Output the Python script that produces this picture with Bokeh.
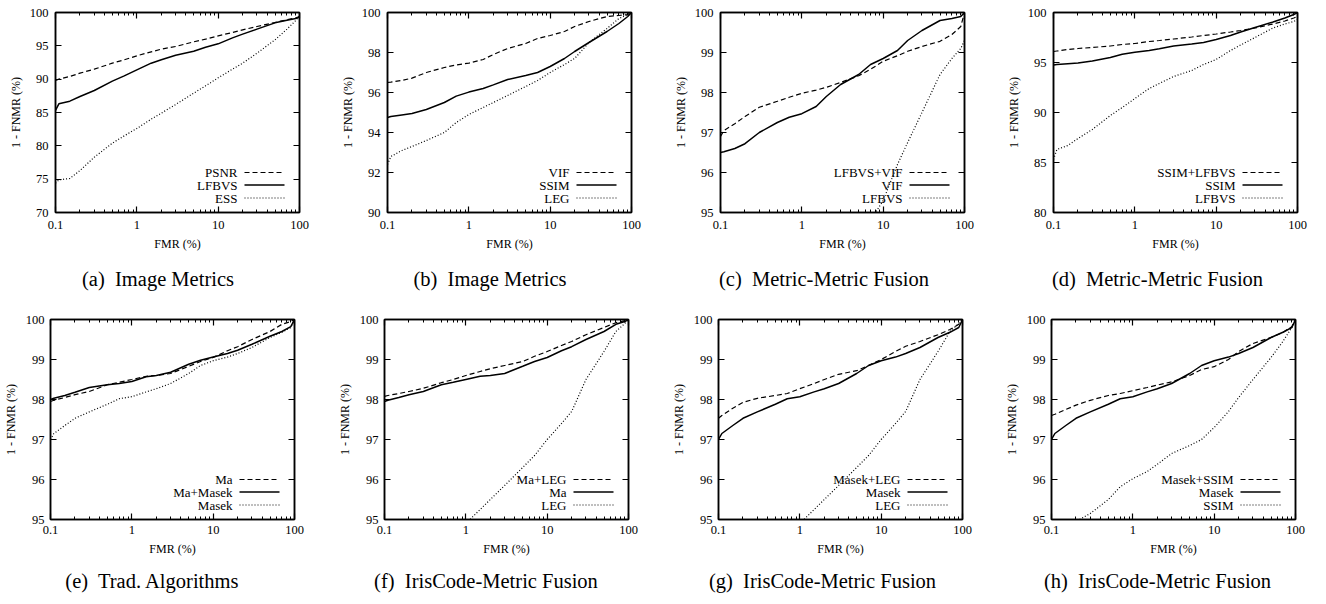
from bokeh.plotting import figure
from bokeh.models import (Range1d, FixedTicker, LinearAxis, LogAxis, Label, Title,
                          CustomJSTickFormatter)
from bokeh.layouts import row, column
from bokeh.embed import file_html
from bokeh.resources import INLINE

# ---------------- data ----------------
FMR = [0.1, 0.11, 0.15, 0.2, 0.3, 0.5, 0.7, 1, 1.5, 2, 3, 5, 7, 10, 15, 20, 30, 50, 70, 90, 100]

PSNR = [89.8, 90.0, 90.4, 90.9, 91.5, 92.4, 92.9, 93.5, 94.1, 94.5, 94.9, 95.6, 96.0, 96.5, 97.0, 97.4, 97.9, 98.5, 98.9, 99.2, 99.4]
LFBVS = [85.3, 86.3, 86.7, 87.4, 88.3, 89.7, 90.5, 91.4, 92.4, 92.9, 93.6, 94.2, 94.8, 95.3, 96.2, 96.75, 97.5, 98.45, 98.85, 99.1, 99.3]
ESS = [74.4, 74.9, 75.1, 76.3, 78.3, 80.4, 81.5, 82.6, 84.0, 84.9, 86.2, 87.9, 89.0, 90.2, 91.5, 92.4, 93.9, 95.9, 97.5, 98.8, 99.5]
VIF = [96.5, 96.52, 96.6, 96.72, 97.0, 97.25, 97.38, 97.47, 97.65, 97.9, 98.2, 98.45, 98.7, 98.85, 99.05, 99.3, 99.55, 99.8, 99.85, 99.9, 100]
SSIM = [94.75, 94.8, 94.88, 94.95, 95.15, 95.5, 95.82, 96.02, 96.2, 96.38, 96.65, 96.85, 97.0, 97.3, 97.7, 98.05, 98.5, 99.05, 99.45, 99.8, 100]
LEG = [92.4, 92.8, 93.1, 93.3, 93.6, 94.0, 94.5, 94.9, 95.25, 95.5, 95.85, 96.3, 96.6, 97.0, 97.4, 97.7, 98.5, 99.2, 99.7, 99.9, 100]
MA = [97.95, 97.98, 98.05, 98.12, 98.2, 98.37, 98.43, 98.5, 98.58, 98.6, 98.65, 98.83, 98.95, 99.05, 99.22, 99.32, 99.5, 99.7, 99.88, 99.95, 100]
MASEK = [97.0, 97.15, 97.35, 97.53, 97.69, 97.88, 98.02, 98.07, 98.19, 98.27, 98.4, 98.65, 98.85, 98.97, 99.06, 99.15, 99.3, 99.55, 99.68, 99.8, 100]
LFBVS_VIF = [96.9, 97.05, 97.22, 97.4, 97.63, 97.78, 97.88, 97.98, 98.06, 98.13, 98.25, 98.42, 98.58, 98.78, 98.92, 99.03, 99.15, 99.28, 99.45, 99.65, 100]
SSIM_LFBVS = [96.1, 96.15, 96.3, 96.4, 96.5, 96.65, 96.8, 96.9, 97.1, 97.2, 97.35, 97.55, 97.7, 97.85, 98.05, 98.2, 98.45, 98.85, 99.15, 99.45, 99.6]
MA_MASEK = [98.0, 98.03, 98.1, 98.18, 98.3, 98.37, 98.4, 98.45, 98.57, 98.6, 98.68, 98.88, 98.98, 99.06, 99.15, 99.23, 99.38, 99.58, 99.7, 99.82, 100]
MA_LEG = [98.08, 98.1, 98.15, 98.2, 98.28, 98.42, 98.5, 98.6, 98.7, 98.77, 98.85, 98.95, 99.08, 99.2, 99.35, 99.45, 99.62, 99.8, 99.92, 99.97, 100]
MASEK_LEG = [97.53, 97.6, 97.78, 97.93, 98.03, 98.1, 98.15, 98.27, 98.4, 98.5, 98.63, 98.72, 98.85, 99.0, 99.2, 99.33, 99.45, 99.62, 99.75, 99.88, 100]
MASEK_SSIM = [97.6, 97.63, 97.75, 97.86, 97.98, 98.1, 98.15, 98.22, 98.3, 98.36, 98.44, 98.6, 98.75, 98.82, 99.0, 99.2, 99.4, 99.55, 99.68, 99.82, 100]

X_TICKS = [0.1, 1, 10, 100]
X_MINOR = [0.2, 0.3, 0.4, 0.5, 0.6, 0.7, 0.8, 0.9,
           2, 3, 4, 5, 6, 7, 8, 9,
           20, 30, 40, 50, 60, 70, 80, 90]
YT_A = [70, 75, 80, 85, 90, 95, 100]
YT_B = [90, 92, 94, 96, 98, 100]
YT_C = [95, 96, 97, 98, 99, 100]
YT_D = [80, 85, 90, 95, 100]

X_LABEL = "FMR (%)"
Y_LABEL = "1 - FNMR (%)"

PANELS = [
    ("(a)", "Image Metrics", (70, 100), YT_A,
     [("PSNR", PSNR, "dashed"), ("LFBVS", LFBVS, "solid"), ("ESS", ESS, "dotted")]),
    ("(b)", "Image Metrics", (90, 100), YT_B,
     [("VIF", VIF, "dashed"), ("SSIM", SSIM, "solid"), ("LEG", LEG, "dotted")]),
    ("(c)", "Metric-Metric Fusion", (95, 100), YT_C,
     [("LFBVS+VIF", LFBVS_VIF, "dashed"), ("VIF", VIF, "solid"), ("LFBVS", LFBVS, "dotted")]),
    ("(d)", "Metric-Metric Fusion", (80, 100), YT_D,
     [("SSIM+LFBVS", SSIM_LFBVS, "dashed"), ("SSIM", SSIM, "solid"), ("LFBVS", LFBVS, "dotted")]),
    ("(e)", "Trad. Algorithms", (95, 100), YT_C,
     [("Ma", MA, "dashed"), ("Ma+Masek", MA_MASEK, "solid"), ("Masek", MASEK, "dotted")]),
    ("(f)", "IrisCode-Metric Fusion", (95, 100), YT_C,
     [("Ma+LEG", MA_LEG, "dashed"), ("Ma", MA, "solid"), ("LEG", LEG, "dotted")]),
    ("(g)", "IrisCode-Metric Fusion", (95, 100), YT_C,
     [("Masek+LEG", MASEK_LEG, "dashed"), ("Masek", MASEK, "solid"), ("LEG", LEG, "dotted")]),
    ("(h)", "IrisCode-Metric Fusion", (95, 100), YT_C,
     [("Masek+SSIM", MASEK_SSIM, "dashed"), ("Masek", MASEK, "solid"), ("SSIM", SSIM, "dotted")]),
]

# ---------------- layout / style ----------------
FONT = "Liberation Serif"
FW, FH = 244, 200
LEFT = [55, 46, 46, 46, 50, 45, 45, 45]
RIGHT = [38, 39, 39, 15, 40, 40, 39, 15]
TOP = [12, 12, 12, 12, 6, 6, 6, 6]
BOTTOM = [101, 101, 101, 101, 78, 78, 78, 78]
SUB_DX = [102.5, 102.5, 103.5, 104, 102.5, 101.5, 104, 106]
SUB_STAND = [27, 27, 27, 27, 21, 21, 21, 21]
SUB_SIZE = 20.5
SUB_GAP = "\u00a0 "
XSTAND = [8, 8, 8, 8, 6, 6, 6, 6]
YSTAND = [7, 7, 7, 7, 6, 6, 6, 6]
LEG_TEXT_X, LEG_L0, LEG_L1 = 182, 189, 229
LEG_Y = [40, 27.5, 14.5]
DASH = {"dashed": "5 3", "solid": "solid", "dotted": "1 2"}
LW = {"dashed": 1.2, "solid": 1.5, "dotted": 1.2}

# approximate advance widths of a Times-metric serif font (per 1000 em)
TIMES_W = {'a': 444, 'b': 500, 'c': 444, 'd': 500, 'e': 444, 'f': 333, 'g': 500, 'h': 500,
           'i': 278, 'l': 278, 'm': 778, 'n': 500, 'o': 500, 'r': 333, 's': 389, 't': 278,
           'u': 500, ' ': 250, '\u00a0': 250, '(': 333, ')': 333, '-': 333, '.': 250,
           'I': 333, 'M': 889, 'F': 556, 'T': 611, 'A': 722, 'C': 667}


def text_width(s, size):
    return sum(TIMES_W.get(ch, 500) for ch in s) * size / 1000.0


def to_x(px):
    return 10 ** (-1 + 3 * px / FW)


def to_y(lo, hi, px):
    return lo + (hi - lo) * px / FH


def style_axis(ax, visible_labels, stand):
    ax.axis_line_color = "black"
    ax.axis_line_width = 1.5
    ax.major_tick_line_color = "black"
    ax.minor_tick_line_color = "black"
    ax.major_tick_line_width = 1.2
    ax.minor_tick_line_width = 1.0
    ax.major_tick_in = 6
    ax.major_tick_out = 0
    ax.minor_tick_in = 3
    ax.minor_tick_out = 0
    if visible_labels:
        ax.major_label_text_font = FONT
        ax.major_label_text_font_size = "12.5px"
        ax.major_label_text_color = "black"
        ax.major_label_standoff = stand
        ax.axis_label_text_font = FONT
        ax.axis_label_text_font_size = "12px"
        ax.axis_label_text_font_style = "normal"
        ax.axis_label_text_color = "black"
    else:
        ax.major_label_text_font_size = "0px"
        ax.major_label_text_color = None
        ax.major_label_standoff = 0


def make(i, panel):
    tag, caption, (lo, hi), yticks, curves = panel
    sub = tag + SUB_GAP + caption
    p = figure(x_axis_type="log", x_range=Range1d(0.1, 100), y_range=Range1d(lo, hi),
               frame_width=FW, frame_height=FH, output_backend="svg", toolbar_location=None,
               min_border_left=LEFT[i], min_border_right=RIGHT[i], min_border_top=TOP[i],
               min_border_bottom=BOTTOM[i], x_axis_label=X_LABEL, y_axis_label=Y_LABEL,
               background_fill_color="white", border_fill_color="white", margin=0)
    p.grid.visible = False
    p.outline_line_color = "black"
    p.outline_line_width = 1.5
    xt = FixedTicker(ticks=X_TICKS, minor_ticks=X_MINOR)
    yt = FixedTicker(ticks=yticks, minor_ticks=[])
    xa = p.below[0]
    ya = p.left[0]
    xa.ticker = xt
    ya.ticker = yt
    xa.formatter = CustomJSTickFormatter(code="return tick.toString();")
    style_axis(xa, True, XSTAND[i])
    style_axis(ya, True, YSTAND[i])
    xa.axis_label_standoff = 5
    ya.axis_label_standoff = 4 if i < 4 else 5
    top = LogAxis(ticker=xt)
    right = LinearAxis(ticker=yt)
    style_axis(top, False, 0)
    style_axis(right, False, 0)
    p.add_layout(top, "above")
    p.add_layout(right, "right")

    for k, (name, ys, st) in enumerate(curves):
        p.line(FMR, ys, line_color="black", line_width=LW[st], line_dash=DASH[st])
        yy = to_y(lo, hi, LEG_Y[k])
        p.add_layout(Label(x=to_x(LEG_TEXT_X), y=yy, text=name, text_align="right",
                           text_baseline="middle", text_font=FONT, text_font_size="13px",
                           text_color="black"))
        p.line([to_x(LEG_L0), to_x(LEG_L1)], [yy, yy], line_color="black",
               line_width=LW[st], line_dash=DASH[st])

    off = SUB_DX[i] - text_width(sub, SUB_SIZE) / 2
    p.add_layout(Title(text=sub, align="left", offset=off, vertical_align="middle",
                       standoff=SUB_STAND[i], text_font=FONT,
                       text_font_size=f"{SUB_SIZE}px", text_font_style="normal",
                       text_color="black"), "below")
    return p


figs = [make(i, pn) for i, pn in enumerate(PANELS)]
layout = column(row(*figs[:4], spacing=0, margin=0),
                row(*figs[4:], spacing=0, margin=0), spacing=0, margin=0)

open("out.html", "w").write(file_html(layout, INLINE))
